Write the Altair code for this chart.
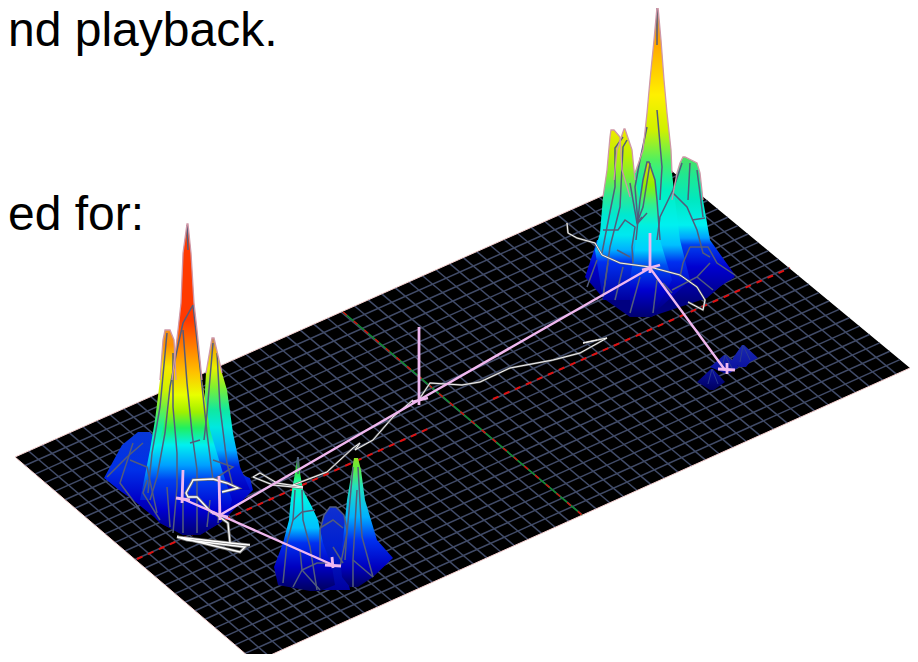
import altair as alt
import numpy as np
import pandas as pd

# ---- text ----
TEXTS = [("nd playback.", 8, 46), ("ed for:", 8, 230)]

# ---- ground plane corners and mesh divisions ----
CORNER_L = (15, 457)
CORNER_B = (255, 662)
CORNER_R = (910, 368)
CORNER_T = (667, 167)
CELLS_LONG = 48
CELLS_SHORT = 24

# ---- colour tables (image height -> colour) ----
T_MAIN = [(224, "#b06a60"), (245, "#ff3a00"), (320, "#ff3a00"), (345, "#ff7a00"), (372, "#ffc000"), (395, "#e8ff00"),
          (412, "#a0f000"), (428, "#20f060"), (445, "#00f0f0"), (465, "#00a0ff"), (480, "#0040f0"), (510, "#0000d0"), (536, "#000070")]
T_A = [(330, "#f09020"), (345, "#ff9000"), (367, "#f8e800"), (390, "#d0f000"), (407, "#70f040"), (428, "#10f0a0"),
       (447, "#00f0f0"), (470, "#00a0ff"), (490, "#0030e0"), (520, "#0000c0")]
T_D = [(338, "#c08060"), (350, "#f0b000"), (368, "#e8f000"), (387, "#80f030"), (410, "#10e8a0"), (427, "#00e8e0"),
       (450, "#00b0ff"), (467, "#0020e0"), (490, "#0000c0"), (510, "#000090")]
T_BLOB = [(432, "#0838d8"), (470, "#0030e8"), (500, "#0000c8"), (536, "#000070")]
T_E = [(457, "#505a80"), (470, "#30e030"), (482, "#20ffa0"), (500, "#00f0e8"), (528, "#00c0ff"), (543, "#0030f0"), (567, "#0000c0"), (591, "#000060")]
T_G = [(507, "#1030d0"), (545, "#0020d0"), (590, "#0000a0")]
T_H = [(458, "#90e020"), (468, "#60f040"), (487, "#20e0c0"), (517, "#00b0ff"), (540, "#0030f0"), (567, "#0000c0"), (587, "#000060")]
T_R1 = [(7, "#b08878"), (40, "#ffa000"), (60, "#ffc000"), (95, "#fff000"), (130, "#d0f000"), (160, "#50f060"), (190, "#00f0c0"),
        (225, "#00f0f0"), (245, "#00c0ff"), (262, "#0030f0"), (290, "#0000c0"), (317, "#000070")]
T_R2 = [(129, "#f0e800"), (155, "#c0f000"), (175, "#80f030"), (195, "#30e890"), (215, "#00e8d0"), (235, "#00e8f0"), (250, "#00b0ff"),
        (262, "#0030f0"), (300, "#0000a0")]
T_R3 = [(157, "#50e060"), (175, "#20e890"), (200, "#00e8c0"), (225, "#00f0f0"), (238, "#00a0ff"), (245, "#0040f0"), (267, "#0000d0"), (300, "#000080")]
T_R4 = [(162, "#e8d800"), (185, "#90f000"), (205, "#30f090"), (225, "#00f0e0"), (250, "#00d0ff"), (265, "#0050f0"), (290, "#0000d0"), (317, "#000070")]
T_PYR = [(345, "#1a2ab0"), (370, "#0a10a0"), (390, "#000060")]

# ---- peak silhouettes: rows of (height, left, right) ----
P3 = [(369, 711, 713), (382, 697, 725), (390, 710, 714)]
P2 = [(355, 724, 726), (367, 710, 739), (373, 724, 730)]
P1 = [(345, 742, 744), (358, 733, 758), (362, 731, 750), (367, 740, 746)]
R_BASE = [(240, 597, 708), (250, 594, 715), (277, 585, 735), (285, 592, 722), (298, 603, 707), (317, 630, 650)]
R3 = [(157, 683, 685), (163, 680, 697), (173, 677, 700), (200, 672, 703), (240, 668, 710), (275, 665, 735), (300, 680, 703)]
R1 = [(7, 657, 658), (40, 654, 661), (80, 650, 664), (113, 647, 667), (150, 643, 671), (173, 635, 672), (200, 634, 675),
      (240, 630, 680), (280, 630, 690), (317, 632, 650)]
R2A = [(130, 611, 614), (137, 610, 620), (170, 607, 622), (197, 603, 630), (233, 600, 640), (250, 595, 650), (300, 603, 650)]
R2B = [(129, 624, 625), (150, 617, 632), (180, 614, 635), (210, 612, 642), (250, 610, 650), (300, 615, 650)]
R4 = [(162, 647, 649), (180, 643, 655), (200, 640, 657), (240, 636, 660), (280, 630, 672), (317, 630, 652)]
BLOB = [(432, 138, 150), (445, 122, 160), (478, 104, 250), (490, 119, 253), (500, 133, 243), (517, 154, 227), (523, 160, 220), (535, 183, 200)]
A = [(330, 165, 170), (340, 163, 174), (380, 160, 176), (420, 155, 178), (450, 150, 180), (500, 140, 190)]
D = [(338, 212, 214), (373, 206, 222), (390, 205, 227), (433, 203, 233), (467, 198, 240), (490, 200, 250)]
M = [(224, 187, 188), (253, 183, 191), (303, 181, 194), (330, 178, 197), (380, 172, 202), (430, 163, 210), (470, 147, 222),
     (500, 150, 232), (517, 155, 227), (523, 160, 220), (535, 183, 200)]
G = [(507, 330, 336), (515, 324, 344), (530, 320, 347), (560, 320, 345), (590, 320, 350)]
E = [(457, 297, 299), (473, 295, 300), (490, 292, 303), (507, 290, 312), (520, 289, 318), (543, 283, 323), (567, 274, 332), (585, 278, 335), (591, 310, 320)]
H = [(458, 354, 358), (470, 352, 361), (500, 347, 365), (540, 343, 377), (558, 340, 393), (577, 342, 373), (587, 350, 358)]

# ---- mesh lines on the peaks ----
MESH_RIGHT = [
    [(657, 7), (657, 45)],
    [(647, 127), (640, 160), (635, 187), (638, 223), (647, 213)],
    [(657, 110), (662, 167), (660, 200)],
    [(623, 137), (615, 148), (615, 187), (607, 227), (602, 253)],
    [(627, 140), (623, 147), (620, 207), (610, 247), (603, 297)],
    [(630, 183), (637, 223), (642, 217)],
    [(603, 230), (618, 230), (625, 220), (635, 227), (632, 247), (633, 263)],
    [(617, 250), (630, 257)],
    [(650, 163), (643, 207), (637, 223)],
    [(682, 163), (673, 190), (660, 217), (657, 240)],
    [(690, 163), (688, 200)],
    [(697, 170), (703, 217)],
    [(692, 220), (705, 218)],
    [(673, 193), (687, 207), (697, 230), (703, 253), (710, 257)],
    [(690, 247), (708, 247), (717, 263), (735, 275)],
    [(690, 247), (683, 263), (680, 277)],
    [(710, 263), (697, 277), (672, 290)],
    [(697, 277), (713, 290)],
    [(640, 277), (630, 313)],
    [(657, 280), (653, 313)],
    [(623, 267), (615, 300)],
    [(608, 263), (603, 297)],
    [(597, 260), (587, 287)],
    [(663, 283), (672, 293)],
]
MESH_LEFT = [
    [(187, 225), (188, 250)],
    [(193, 305), (183, 323), (177, 350), (170, 387), (165, 433), (157, 477), (150, 500)],
    [(193, 305), (200, 367), (207, 433), (213, 480)],
    [(183, 330), (187, 383), (192, 433), (197, 470), (197, 533)],
    [(167, 333), (160, 407), (152, 453), (148, 493)],
    [(173, 353), (173, 407), (177, 453), (177, 487), (173, 533)],
    [(213, 343), (207, 413), (204, 440)],
    [(217, 353), (220, 407), (227, 463), (233, 487)],
    [(190, 443), (200, 440)],
    [(213, 460), (233, 467), (213, 480)],
    [(107, 477), (127, 457), (143, 443)],
    [(133, 443), (120, 483), (140, 510)],
    [(130, 460), (147, 467), (157, 513)],
    [(147, 480), (143, 493), (160, 520)],
    [(183, 500), (183, 533)],
    [(167, 487), (170, 527)],
    [(210, 500), (207, 527)],
    [(220, 500), (218, 523)],
]
MESH_MID = [
    [(298, 457), (298, 474)],
    [(295, 490), (293, 520), (287, 543), (283, 583)],
    [(302, 490), (303, 520), (310, 547), (317, 590)],
    [(293, 520), (302, 512), (315, 510)],
    [(302, 570), (293, 587)],
    [(300, 550), (302, 570), (320, 590)],
    [(302, 570), (317, 563), (330, 563)],
    [(320, 528), (333, 520), (343, 528)],
    [(333, 547), (343, 563)],
    [(353, 467), (347, 533), (340, 567)],
    [(358, 467), (362, 537), (373, 577)],
    [(357, 490), (353, 560), (353, 587)],
    [(353, 560), (373, 577)],
]

# ---- paths ----
LONG_RED_1 = [(137, 559), (430, 428)]
LONG_RED_2 = [(493, 399), (790, 268)]
CROSS_LINE = [(343, 312), (582, 515)]
PATH_A = [(183, 499), (220, 515), (333, 565)]
PATH_B = [(220, 515), (419, 400), (650, 268), (725, 370)]
STEMS = [[(183, 470), (182, 503)], [(219, 476), (220, 520)], [(419, 327), (419, 405)], [(650, 233), (650, 273)],
         [(727, 363), (727, 374)], [(332, 557), (333, 568)]]
TICKS = [[(176, 498), (190, 500)], [(212, 513), (228, 517)], [(412, 402), (428, 398)], [(642, 270), (660, 265)],
         [(718, 369), (735, 370)], [(325, 565), (341, 566)]]
TRAILS = [
    [(212, 513), (197, 497), (188, 497), (186, 493), (192, 482), (193, 480), (213, 479), (227, 483), (238, 488), (222, 492)],
    [(213, 512), (228, 523), (230, 543)],
    [(177, 537), (240, 552), (245, 547), (187, 540), (177, 537), (230, 543), (250, 545)],
]
TRAILS_THIN = [
    [(303, 488), (273, 485), (253, 477), (260, 473), (277, 483), (303, 487), (293, 485), (327, 472), (353, 448), (360, 443),
     (355, 450), (373, 440), (393, 417), (413, 400)],
    [(420, 398), (430, 383), (462, 385), (480, 382), (510, 368), (553, 360), (580, 353), (607, 338), (583, 343), (597, 340)],
    [(567, 223), (568, 233), (577, 238), (595, 243), (602, 255), (620, 263), (650, 267), (680, 275), (697, 287), (705, 300),
     (703, 310), (688, 302)],
]

X = alt.X("x:Q", scale=alt.Scale(domain=[8, 910], nice=False, zero=False), axis=None)
Y = alt.Y("y:Q", scale=alt.Scale(domain=[654, 8], nice=False, zero=False), axis=None)


def lerp(p, q, t):
    return (p[0] + (q[0] - p[0]) * t, p[1] + (q[1] - p[1]) * t)


def lines(paths, color, width, dash=None, opacity=1):
    rows = [{"id": i, "seq": j, "x": p[0], "y": p[1]} for i, path in enumerate(paths) for j, p in enumerate(path)]
    kw = {"strokeDash": dash} if dash else {}
    return alt.Chart(pd.DataFrame(rows)).mark_line(color=color, strokeWidth=width, opacity=opacity, clip=True, **kw).encode(
        x=X, y=Y, detail="id:N", order="seq:Q")


def to_rgb(h):
    return np.array([int(h[i:i + 2], 16) for i in (1, 3, 5)], float)


def color_at(table, y):
    ys = [t[0] for t in table]
    rgb = np.array([to_rgb(t[1]) for t in table])
    c = [int(round(np.interp(y, ys, rgb[:, k]))) for k in range(3)]
    return "#%02x%02x%02x" % tuple(c)


def spike(rows, table):
    y0, y1 = rows[0][0], rows[-1][0]
    stops = [alt.GradientStop(offset=0, color=color_at(table, y0))]
    for yy, c in table:
        if y0 < yy < y1:
            stops.append(alt.GradientStop(offset=(yy - y0) / (y1 - y0), color=c))
    stops.append(alt.GradientStop(offset=1, color=color_at(table, y1)))
    fill = alt.LinearGradient(gradient="linear", stops=stops, x1=0, x2=0, y1=0, y2=1)
    df = pd.DataFrame(rows, columns=["y", "x", "x2"])
    return alt.Chart(df).mark_area(orient="horizontal", fill=fill, clip=True).encode(x=X, x2="x2:Q", y=Y)


def outline(rows, limit):
    part = [r for r in rows if r[0] <= limit]
    return [(r[1], r[0]) for r in reversed(part)] + [(r[2], r[0]) for r in part]


# ground
L, B, R, T = CORNER_L, CORNER_B, CORNER_R, CORNER_T
ys = sorted([T[1], R[1], L[1], B[1]])
ground_rows = []
for yy in ys:
    if yy <= L[1]:
        xl = T[0] + (L[0] - T[0]) * (yy - T[1]) / (L[1] - T[1])
    else:
        xl = L[0] + (B[0] - L[0]) * (yy - L[1]) / (B[1] - L[1])
    if yy <= R[1]:
        xr = T[0] + (R[0] - T[0]) * (yy - T[1]) / (R[1] - T[1])
    else:
        xr = R[0] + (B[0] - R[0]) * (yy - R[1]) / (B[1] - R[1])
    ground_rows.append((yy, xl, xr))
ground = alt.Chart(pd.DataFrame(ground_rows, columns=["y", "x", "x2"])).mark_area(orient="horizontal", color="#000000", clip=True).encode(x=X, x2="x2:Q", y=Y)

grid_paths = []
for i in range(1, CELLS_LONG):
    t = i / CELLS_LONG
    grid_paths.append([lerp(B, R, t), lerp(L, T, t)])
for i in range(1, CELLS_SHORT):
    t = i / CELLS_SHORT
    grid_paths.append([lerp(B, L, t), lerp(R, T, t)])
grid = lines(grid_paths, "#414b68", 1.5)
edges = lines([[T, L, B, R]], "#f4cfcf", 1)

layers = [ground, grid, edges,
          lines([CROSS_LINE], "#109030", 1.5),
          lines([CROSS_LINE], "#d01010", 1.5, dash=[5, 9]),
          lines([LONG_RED_1, LONG_RED_2], "#e01010", 2, dash=[6, 6])]

# far pyramids
layers += [spike(P1, T_PYR), spike(P2, T_PYR), spike(P3, T_PYR),
           lines([[(743, 345), (740, 362)], [(743, 345), (750, 360)], [(725, 355), (722, 368)], [(725, 355), (732, 368)],
                  [(712, 369), (708, 384)], [(712, 369), (718, 384)]], "#2a3a90", 1)]

# right group
right = [(R_BASE, T_R3, 0), (R3, T_R3, 200), (R1, T_R1, 175), (R2A, T_R2, 200), (R2B, T_R2, 200), (R4, T_R4, 0)]
layers += [spike(r, t) for r, t, _ in right]
layers.append(lines(MESH_RIGHT + [outline(R4, 250)], "#525c7c", 1.5))
layers.append(lines([outline(r, lim) for r, t, lim in right if lim], "#cf98a8", 1.3))

# left group
left = [(BLOB, T_BLOB, 0), (A, T_A, 405), (D, T_D, 373), (M, T_MAIN, 380)]
layers += [spike(r, t) for r, t, _ in left]
layers.append(lines(MESH_LEFT, "#525c7c", 1.5))
layers.append(lines([outline(r, lim) for r, t, lim in left if lim], "#cf98a8", 1.3))

# middle group
layers += [spike(G, T_G), spike(H, T_H), spike(E, T_E)]
layers.append(lines(MESH_MID + [outline(G, 560)], "#525c7c", 1.5))

# trails and skeleton
layers.append(lines(TRAILS, "#777777", 3))
layers.append(lines(TRAILS, "#ffffff", 1.3))
layers.append(lines(TRAILS_THIN, "#707070", 2))
layers.append(lines(TRAILS_THIN, "#f4f4f4", 1))
layers.append(lines([PATH_A, PATH_B], "#f0b8f0", 2.4))
layers.append(lines(STEMS + TICKS, "#f0b8f0", 2.8))

# text
text_df = pd.DataFrame(TEXTS, columns=["t", "x", "y"])
layers.append(alt.Chart(text_df).mark_text(font="Liberation Sans", fontSize=48, align="left", baseline="alphabetic", color="#000000").encode(x=X, y=Y, text="t:N"))

chart = alt.layer(*layers).properties(
    width=902, height=646, padding=0, autosize=alt.AutoSizeParams(type="none"), background="#ffffff"
).configure_view(stroke=None)

chart.save("out.html", embed_options={"renderer": "svg", "actions": False})
